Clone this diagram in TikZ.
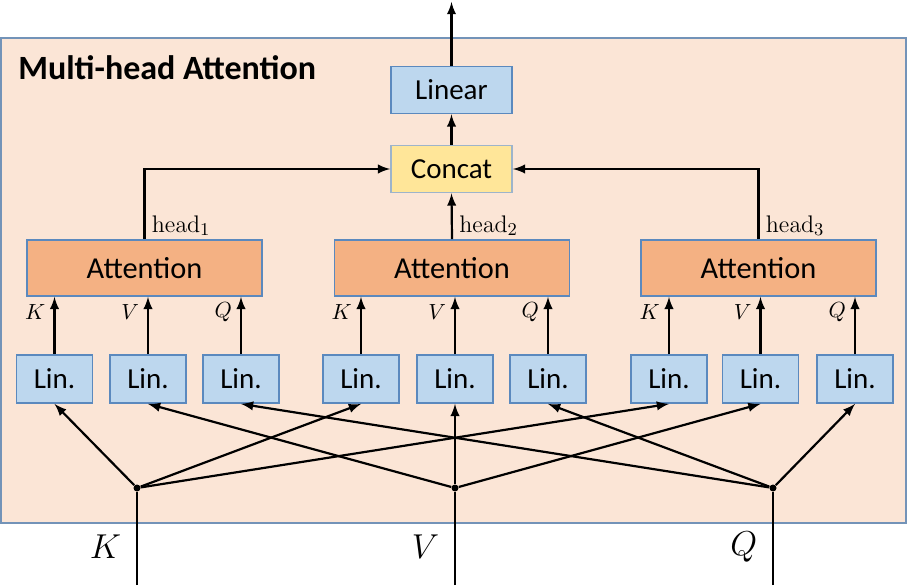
\documentclass[tikz,border=0pt]{standalone}
\usepackage[no-math]{fontspec}
\setmainfont{Carlito}
\definecolor{panel}{HTML}{FBE5D6}
\definecolor{panelline}{HTML}{7393B8}
\definecolor{boxline}{HTML}{5B89BE}
\definecolor{linfill}{HTML}{BDD7EE}
\definecolor{attfill}{HTML}{F4B183}
\definecolor{catfill}{HTML}{FFE699}
\definecolor{catline}{HTML}{9DB4CB}
\tikzset{
  box/.style={draw=boxline,line width=0.9pt,inner sep=0pt,font=\fontsize{14.5}{16}\selectfont},
  lin/.style={box,fill=linfill,minimum width=38pt,minimum height=24pt},
  att/.style={box,fill=attfill,minimum width=117.5pt,minimum height=28pt,font=\fontsize{15.2}{17}\selectfont},
  wire/.style={line width=1.1pt,->},
  kvq/.style={inner sep=1pt,font=\fontsize{10.5}{12}\selectfont},
  dot/.style={circle,fill,inner sep=0pt,minimum size=3.5pt},
}
\begin{document}
\begin{tikzpicture}[x=0.5pt,y=-0.5pt,>=latex]
\useasboundingbox (0,0) rectangle (909,587);
\draw
    (453.5,280.5) node [draw=panelline,fill=panel,line width=0.9pt,minimum width=452.5pt,minimum height=242.5pt] (mha) {}
    (18,80) node [anchor=base west,inner sep=0pt,font=\fontsize{17}{20}\selectfont\bfseries] (title) {Multi-head Attention};
\draw
    (451.5,90) node [box,fill=linfill,minimum width=60.5pt,minimum height=23.5pt] (linear) {Linear}
    (451.5,169) node [box,draw=catline,fill=catfill,minimum width=60.5pt,minimum height=23.5pt] (concat) {Concat}
    (144.5,268) node [att] (att1) {Attention}
    (452,268) node [att] (att2) {Attention}
    (758.5,268) node [att] (att3) {Attention};
\draw
    (54.5,379) node [lin] (lk1) {Lin.}
    (148,379) node [lin] (lv1) {Lin.}
    (241,379) node [lin] (lq1) {Lin.}
    (361,379) node [lin] (lk2) {Lin.}
    (455,379) node [lin] (lv2) {Lin.}
    (548,379) node [lin] (lq2) {Lin.}
    (669,379) node [lin] (lk3) {Lin.}
    (760.5,379) node [lin] (lv3) {Lin.}
    (855,379) node [lin] (lq3) {Lin.};
\coordinate (out) at (451.5,2);
\node [dot] (kin) at (137,488) {};
\node [dot] (vin) at (455,488) {};
\node [dot] (qin) at (773,488) {};
\coordinate (kend) at (137,585);
\coordinate (vend) at (455,585);
\coordinate (qend) at (773,585);
\draw [wire] (linear) -- (out);
\draw [wire] (concat) -- (linear);
\draw [wire] (att1.north) |- (concat.west);
\draw [wire] (att2.north) -- (concat.south);
\draw [wire] (att3.north) |- (concat.east);
\node [anchor=south west,inner sep=1.5pt,xshift=2pt,font=\fontsize{13}{15}\selectfont] (h1) at (att1.north) {$\mathrm{head}_1$};
\node [anchor=south west,inner sep=1.5pt,xshift=2pt,font=\fontsize{13}{15}\selectfont] (h2) at (att2.north) {$\mathrm{head}_2$};
\node [anchor=south west,inner sep=1.5pt,xshift=2pt,font=\fontsize{13}{15}\selectfont] (h3) at (att3.north) {$\mathrm{head}_3$};
\draw [wire] (lk1.north) -- (lk1.north |- att1.south) node [kvq,pos=0.73,left=3pt] {$K$};
\draw [wire] (lv1.north) -- (lv1.north |- att1.south) node [kvq,pos=0.73,left=3pt] {$V$};
\draw [wire] (lq1.north) -- (lq1.north |- att1.south) node [kvq,pos=0.73,left=3pt] {$Q$};
\draw [wire] (lk2.north) -- (lk2.north |- att2.south) node [kvq,pos=0.73,left=3pt] {$K$};
\draw [wire] (lv2.north) -- (lv2.north |- att2.south) node [kvq,pos=0.73,left=3pt] {$V$};
\draw [wire] (lq2.north) -- (lq2.north |- att2.south) node [kvq,pos=0.73,left=3pt] {$Q$};
\draw [wire] (lk3.north) -- (lk3.north |- att3.south) node [kvq,pos=0.73,left=3pt] {$K$};
\draw [wire] (lv3.north) -- (lv3.north |- att3.south) node [kvq,pos=0.73,left=3pt] {$V$};
\draw [wire] (lq3.north) -- (lq3.north |- att3.south) node [kvq,pos=0.73,left=3pt] {$Q$};
\draw [wire] (kin) -- (lk1.south);
\draw [wire] (kin) -- (lk2.south);
\draw [wire] (kin) -- (lk3.south);
\draw [wire] (vin) -- (lv1.south);
\draw [wire] (vin) -- (lv2.south);
\draw [wire] (vin) -- (lv3.south);
\draw [wire] (qin) -- (lq1.south);
\draw [wire] (qin) -- (lq2.south);
\draw [wire] (qin) -- (lq3.south);
\draw [line width=1.1pt] (kend) -- (kin) node [pos=0.41,left=4pt,font=\fontsize{16}{18}\selectfont] (klab) {$K$};
\draw [line width=1.1pt] (vend) -- (vin) node [pos=0.41,left=4pt,font=\fontsize{16}{18}\selectfont] (vlab) {$V$};
\draw [line width=1.1pt] (qend) -- (qin) node [pos=0.41,left=4pt,font=\fontsize{16}{18}\selectfont] (qlab) {$Q$};
\end{tikzpicture}
\end{document}
